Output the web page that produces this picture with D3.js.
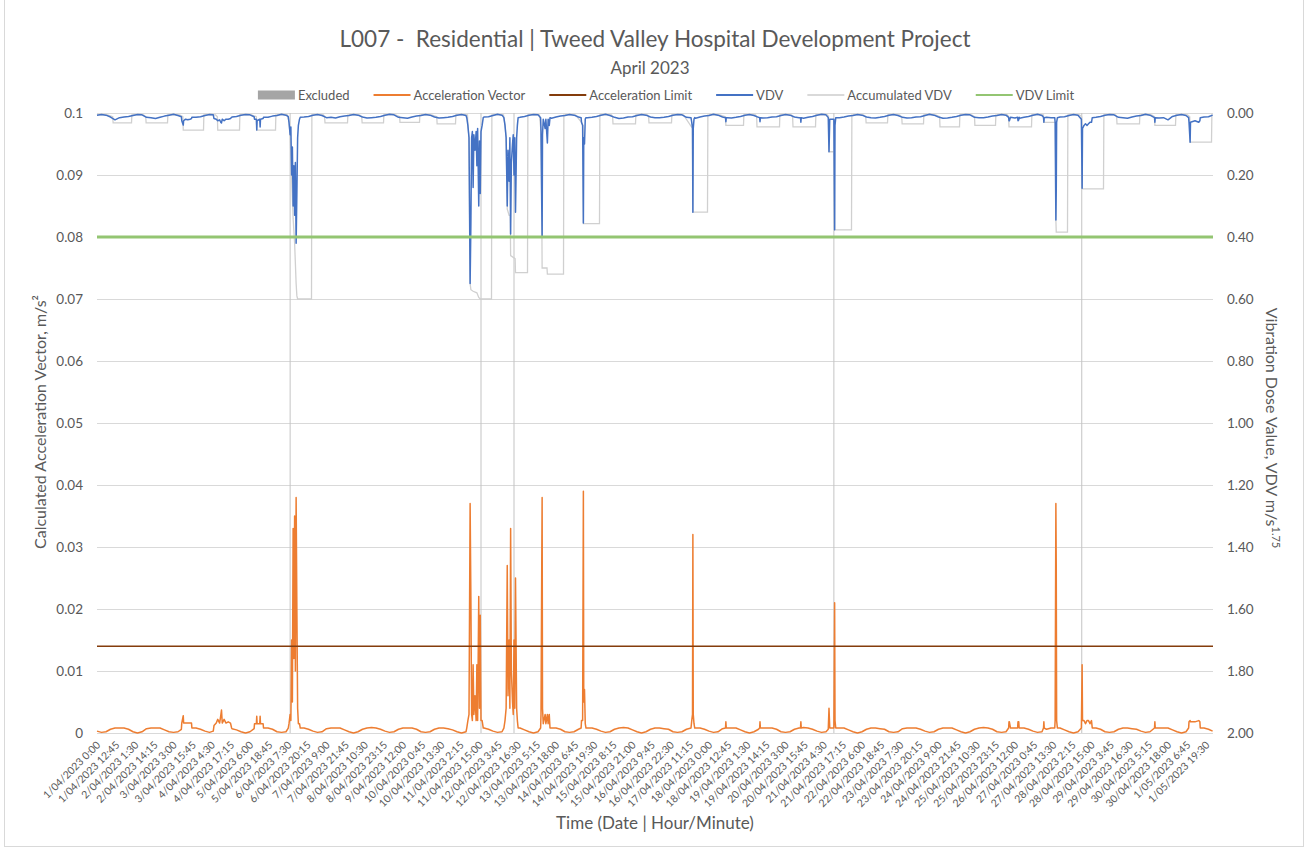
<!DOCTYPE html>
<html lang="en">
<head>
<meta charset="UTF-8" />
<title>L007 - Residential | Tweed Valley Hospital Development Project</title>
<script src="https://d3js.org/d3.v7.min.js"></script>
<style>
  body{margin:0;background:#fff;}
  text{font-family:Lato,"Open Sans",sans-serif;fill:#595959;}
</style>
</head>
<body>
<script>
// ---- data ----
var xLabels = ["1/04/2023 0:00","1/04/2023 12:45","2/04/2023 1:30","2/04/2023 14:15","3/04/2023 3:00","3/04/2023 15:45","4/04/2023 4:30","4/04/2023 17:15","5/04/2023 6:00","5/04/2023 18:45","6/04/2023 7:30","6/04/2023 20:15","7/04/2023 9:00","7/04/2023 21:45","8/04/2023 10:30","8/04/2023 23:15","9/04/2023 12:00","10/04/2023 0:45","10/04/2023 13:30","11/04/2023 2:15","11/04/2023 15:00","12/04/2023 3:45","12/04/2023 16:30","13/04/2023 5:15","13/04/2023 18:00","14/04/2023 6:45","14/04/2023 19:30","15/04/2023 8:15","15/04/2023 21:00","16/04/2023 9:45","16/04/2023 22:30","17/04/2023 11:15","18/04/2023 0:00","18/04/2023 12:45","19/04/2023 1:30","19/04/2023 14:15","20/04/2023 3:00","20/04/2023 15:45","21/04/2023 4:30","21/04/2023 17:15","22/04/2023 6:00","22/04/2023 18:45","23/04/2023 7:30","23/04/2023 20:15","24/04/2023 9:00","24/04/2023 21:45","25/04/2023 10:30","25/04/2023 23:15","26/04/2023 12:00","27/04/2023 0:45","27/04/2023 13:30","28/04/2023 2:15","28/04/2023 15:00","29/04/2023 3:45","29/04/2023 16:30","30/04/2023 5:15","30/04/2023 18:00","1/05/2023 6:45","1/05/2023 19:30"];

var leftTicks = [0,0.01,0.02,0.03,0.04,0.05,0.06,0.07,0.08,0.09,0.1];
var leftTickLabels = ["0","0.01","0.02","0.03","0.04","0.05","0.06","0.07","0.08","0.09","0.1"];
var rightTicks = [0,0.2,0.4,0.6,0.8,1.0,1.2,1.4,1.6,1.8,2.0];
var rightTickLabels = ["0.00","0.20","0.40","0.60","0.80","1.00","1.20","1.40","1.60","1.80","2.00"];

var accelLimit = 0.014;
var vdvLimit = 0.40;
var excludedValue = 0.1;
var excludedTimes = ["6/04 8:45","11/04 16:00","12/04 14:00","21/04 11:15","28/04 8:30"];

// background level of each day, sampled every 3 hours
var baseHours = [0,3,6,9,12,15,18,21];
// acceleration vector, units of 1e-4 m/s2
var accBase = [
 [3,1,2,6,8,8,8,6],[2,0,2,7,8,8,8,5],[2,1,2,6,8,9,8,6],[3,1,2,6,8,8,7,5],[2,0,2,6,8,8,8,6],
 [2,1,2,6,8,8,8,6],[3,1,2,7,8,8,8,5],[2,0,2,6,8,9,8,6],[3,1,2,6,8,8,8,6],[2,1,2,6,8,8,7,5],
 [2,0,2,6,8,8,8,6],[3,1,2,6,8,8,8,5],[2,0,2,7,8,8,8,6],[2,1,2,6,8,8,8,6],[3,1,2,6,8,9,8,5],
 [2,0,2,6,8,8,7,6],[2,1,2,6,8,8,8,6],[3,1,2,7,8,8,8,5],[2,0,2,6,8,8,8,6],[2,1,2,6,8,9,8,6],
 [3,1,2,6,8,8,8,5],[2,0,2,6,8,8,7,6],[2,1,2,7,8,8,8,6],[3,1,2,6,8,8,8,5],[2,0,2,6,8,9,8,6],
 [2,1,2,6,8,8,8,6],[3,1,2,6,8,8,8,5],[2,0,2,7,8,8,8,6],[2,1,2,6,8,8,7,6],[3,1,2,6,8,8,8,5],
 [2,0,2,6,8,8,8,6]
];
// VDV, units of 1e-3 m/s^1.75
var vdvBase = [
 [7,5,7,13,22,15,13,11],[8,5,6,14,15,18,14,10],[7,4,8,13,16,15,14,12],[8,5,7,12,15,17,13,11],[7,5,6,14,16,15,14,10],
 [8,4,7,13,15,16,13,11],[7,5,8,15,14,16,12,10],[8,5,7,13,16,15,14,11],[7,4,6,14,15,17,13,10],[8,5,7,13,16,15,14,11],
 [7,5,8,14,15,16,13,12],[8,4,7,13,16,15,14,11],[7,5,6,14,15,17,13,10],[8,5,7,13,16,15,14,11],[7,4,8,14,18,16,13,12],
 [8,5,7,13,15,15,14,11],[7,5,6,14,16,17,13,10],[8,4,7,13,15,16,14,11],[7,5,8,14,16,15,13,12],[8,5,7,13,15,17,14,11],
 [7,4,6,14,16,15,13,10],[8,5,7,13,15,16,14,11],[7,5,8,14,16,15,13,12],[8,4,7,13,17,16,14,11],[7,5,6,14,15,15,13,10],
 [8,5,7,13,16,17,14,11],[7,4,8,14,15,16,13,12],[8,5,7,13,16,15,14,11],[7,5,6,14,15,17,13,10],[8,4,7,13,16,15,22,11],
 [7,5,8,14,15,16,13,12]
];

// vibration events: [time, acceleration vector m/s2, VDV]
var events = [
 [["3/04 8:15",.0006,.012],["3/04 8:30",.0016,.025],["3/04 9:30",.0028,.039],["3/04 9:45",.0016,.025],["3/04 11:00",.0016,.02],["3/04 12:30",.0016,.022],["3/04 14:00",.0016,.02],["3/04 15:00",.0016,.018],["3/04 15:15",.0008,.014]],
 [["4/04 5:30",.0003,.006],["4/04 6:00",.0012,.018],["4/04 7:30",.0016,.02],["4/04 8:30",.0022,.025],["4/04 9:45",.0016,.022],["4/04 10:30",.0028,.03],["4/04 11:00",.0037,.032],["4/04 11:30",.0016,.02],["4/04 12:45",.0022,.025],["4/04 14:00",.0016,.02],["4/04 15:30",.0018,.02],["4/04 17:00",.0016,.018],["4/04 17:45",.0008,.014]],
 [["5/04 8:45",.0007,.012],["5/04 9:00",.0015,.02],["5/04 10:15",.0015,.02],["5/04 10:30",.0027,.055],["5/04 10:45",.0015,.025],["5/04 12:30",.0015,.02],["5/04 12:45",.0027,.045],["5/04 13:00",.0015,.02],["5/04 14:45",.0015,.018],["5/04 15:00",.0008,.014]],
 [["6/04 7:30",.0008,.012],["6/04 8:00",.0015,.03],["6/04 8:45",.003,.07],["6/04 9:15",.002,.045],["6/04 9:45",.015,.20],["6/04 10:15",.005,.11],["6/04 10:45",.033,.30],["6/04 11:15",.012,.17],["6/04 11:45",.035,.33],["6/04 12:15",.010,.16],["6/04 12:45",.038,.42],["6/04 13:15",.020,.26],["6/04 13:45",.004,.08],["6/04 14:15",.0015,.04],["6/04 15:00",.0015,.02],["6/04 15:30",.0008,.014]],
 [["11/04 6:30",.0008,.015],["11/04 7:15",.002,.04],["11/04 8:00",.003,.08],["11/04 8:45",.037,.55],["11/04 9:15",.022,.36],["11/04 9:45",.003,.08],["11/04 10:15",.002,.06],["11/04 10:45",.011,.24],["11/04 11:15",.003,.07],["11/04 12:00",.006,.12],["11/04 12:45",.002,.06],["11/04 13:15",.011,.17],["11/04 13:45",.002,.05],["11/04 14:30",.022,.30],["11/04 15:00",.004,.09],["11/04 15:30",.019,.26],["11/04 16:00",.002,.06],["11/04 16:45",.002,.04],["11/04 17:30",.0008,.015]],
 [["12/04 7:15",.0008,.015],["12/04 8:00",.002,.04],["12/04 8:45",.004,.08],["12/04 9:30",.027,.30],["12/04 10:00",.006,.12],["12/04 10:45",.015,.22],["12/04 11:15",.004,.08],["12/04 11:45",.033,.39],["12/04 12:15",.010,.16],["12/04 13:00",.005,.10],["12/04 13:30",.003,.07],["12/04 14:00",.015,.20],["12/04 14:30",.004,.08],["12/04 15:00",.025,.32],["12/04 15:45",.004,.08],["12/04 16:15",.002,.04],["12/04 16:45",.0008,.015]],
 [["13/04 7:45",.0008,.015],["13/04 8:00",.003,.06],["13/04 8:30",.027,.30],["13/04 8:45",.038,.40],["13/04 9:00",.004,.07],["13/04 9:30",.0015,.02],["13/04 10:45",.003,.05],["13/04 11:15",.0015,.02],["13/04 12:15",.003,.097],["13/04 12:45",.0015,.02],["13/04 13:30",.003,.04],["13/04 14:00",.0008,.015]],
 [["14/04 10:45",.0008,.015],["14/04 11:00",.002,.03],["14/04 11:45",.002,.04],["14/04 12:15",.039,.355],["14/04 12:30",.005,.08],["14/04 13:00",.007,.10],["14/04 13:30",.0015,.02],["14/04 14:00",.0008,.015]],
 [["17/04 12:00",.0008,.015],["17/04 12:30",.002,.03],["17/04 13:00",.003,.05],["17/04 13:15",.032,.32],["17/04 13:30",.003,.05],["17/04 14:00",.0015,.02],["17/04 14:30",.0008,.015]],
 [["18/04 11:00",.0008,.015],["18/04 11:15",.0018,.028],["18/04 11:30",.0008,.015]],
 [["19/04 9:45",.0008,.015],["19/04 10:00",.0018,.028],["19/04 10:15",.0008,.015]],
 [["20/04 13:00",.0008,.015],["20/04 13:15",.0018,.03],["20/04 13:30",.0008,.015]],
 [["21/04 7:30",.0006,.015],["21/04 8:00",.004,.125],["21/04 8:30",.0008,.02],["21/04 11:15",.0008,.02],["21/04 11:45",.021,.377],["21/04 12:00",.002,.04],["21/04 12:30",.0008,.015]],
 [["26/04 7:45",.0008,.014],["26/04 8:00",.0018,.025],["26/04 8:15",.0018,.025],["26/04 9:00",.0008,.014]],
 [["26/04 13:45",.0008,.014],["26/04 14:00",.0018,.025],["26/04 14:30",.0018,.022],["26/04 14:45",.0008,.014]],
 [["27/04 7:00",.0008,.014],["27/04 7:15",.0018,.03],["27/04 7:30",.0008,.015]],
 [["27/04 14:30",.0008,.015],["27/04 14:45",.002,.03],["27/04 15:15",.037,.345],["27/04 15:30",.027,.25],["27/04 15:45",.002,.03],["27/04 16:15",.0008,.015]],
 [["28/04 8:15",.0008,.02],["28/04 8:45",.011,.243],["28/04 9:00",.002,.05],["28/04 10:00",.002,.04],["28/04 11:00",.0015,.035],["28/04 12:00",.002,.04],["28/04 13:00",.002,.035],["28/04 14:00",.0015,.03],["28/04 15:00",.002,.03],["28/04 15:30",.0008,.015]],
 [["30/04 9:00",.0008,.015],["30/04 9:15",.0018,.03],["30/04 9:30",.0008,.015]],
 [["1/05 7:45",.0008,.015],["1/05 8:00",.0018,.03],["1/05 8:45",.002,.094],["1/05 9:00",.0018,.03],["1/05 12:00",.0018,.025],["1/05 14:30",.002,.03],["1/05 15:15",.0018,.025],["1/05 15:30",.0008,.015]],
 [["1/05 23:45",.0003,.007]]
];

// accumulated VDV per daytime period (7:00 - 23:00)
var accumNight = 0.006;
var accumPre = 0.012;
var accumLevel = [.032,.032,.055,.055,.055,.60,.032,.032,.03,.035,.60,.515,.52,.357,.035,.032,.32,.04,.045,.045,.377,.032,.035,.045,.04,.045,.384,.245,.035,.04,.094];
var accumRise = ["10:45","8:45","9:30","8:30","10:30",null,"8:00","8:45","10:00","10:45",null,null,null,null,"8:00","8:00",null,"11:15","8:00","8:00",null,"8:45","8:45","10:00","9:15","8:00",null,null,"8:00","9:15",null];
var accumSteps = [
 ["6/04 8:00",.03],["6/04 8:45",.07],["6/04 9:45",.21],["6/04 10:45",.34],["6/04 11:45",.42],["6/04 12:45",.55],["6/04 13:15",.59],["6/04 13:45",.60],
 ["11/04 7:15",.04],["11/04 8:00",.08],["11/04 8:45",.55],["11/04 9:15",.57],["11/04 10:45",.575],["11/04 13:15",.58],["11/04 14:30",.595],["11/04 15:30",.60],
 ["12/04 8:00",.04],["12/04 8:45",.08],["12/04 9:30",.31],["12/04 10:45",.33],["12/04 11:30",.33],["12/04 11:45",.46],["12/04 14:45",.47],["12/04 15:00",.515],
 ["13/04 8:00",.06],["13/04 8:30",.30],["13/04 8:45",.50],["13/04 12:00",.50],["13/04 12:15",.52],
 ["14/04 11:00",.03],["14/04 12:00",.04],["14/04 12:15",.357],
 ["17/04 13:00",.05],["17/04 13:15",.32],
 ["21/04 7:45",.012],["21/04 8:00",.125],["21/04 11:30",.125],["21/04 11:45",.377],
 ["27/04 7:00",.008],["27/04 7:15",.03],["27/04 15:00",.03],["27/04 15:15",.345],["27/04 15:30",.384],
 ["28/04 8:30",.012],["28/04 8:45",.245],
 ["1/05 8:30",.012],["1/05 8:45",.094]
];

// ---- build ----
var width = 1307, height = 850;
var plot = {left: 97, right: 1213, top: 113, bottom: 733};

var parseFull = d3.timeParse("%d/%m/%Y %H:%M");
function when(s){ return parseFull(s.replace(" ", "/2023 ")); }
function at(d, hm){ var p = hm.split(":"); return new Date(2023, 3, 1 + d, +p[0], +p[1]); }

var start = new Date(2023, 3, 1), end = new Date(2023, 4, 2);
var x = d3.scaleTime().domain([start, end]).range([plot.left, plot.right]);
var y = d3.scaleLinear().domain([0, 0.1]).range([plot.bottom, plot.top]);
var y2 = d3.scaleLinear().domain([0, 2]).range([plot.top, plot.bottom]);

// acceleration + vdv series
var windows = events.map(function(g){ return [when(g[0][0]), when(g[g.length-1][0])]; });
function inWindow(t){ return windows.some(function(w){ return t >= w[0] && t <= w[1]; }); }
var accSeries = [], vdvSeries = [];
accBase.forEach(function(row, d){
  row.forEach(function(v, k){
    var t = new Date(2023, 3, 1 + d, baseHours[k]);
    if (!inWindow(t)) {
      accSeries.push({t: t, v: v * 1e-4});
      vdvSeries.push({t: t, v: vdvBase[d][k] * 1e-3});
    }
  });
});
events.forEach(function(g){
  g.forEach(function(p){
    var t = when(p[0]);
    accSeries.push({t: t, v: p[1]});
    vdvSeries.push({t: t, v: p[2]});
  });
});
accSeries.sort(function(a,b){ return a.t - b.t; });
vdvSeries.sort(function(a,b){ return a.t - b.t; });

// accumulated series
var stepPts = accumSteps.map(function(s){ return {t: when(s[0]), v: s[1]}; });
var accumSeries = [{t: at(0, "0:00"), v: accumNight}];
accumLevel.forEach(function(lvl, d){
  var day = at(d, "0:00");
  accumSeries.push({t: at(d, "7:00"), v: accumNight});
  var mine = stepPts.filter(function(s){ return +d3.timeDay.floor(s.t) === +day; });
  if (mine.length) {
    mine.forEach(function(s){ accumSeries.push(s); });
  } else {
    var r = at(d, accumRise[d]);
    accumSeries.push({t: new Date(+r - 15 * 60000), v: accumPre});
    accumSeries.push({t: r, v: lvl});
  }
  accumSeries.push({t: at(d, "23:00"), v: lvl});
  accumSeries.push({t: at(d, "23:15"), v: accumNight});
});
accumSeries.push({t: at(30, "23:45"), v: accumNight});

var svg = d3.select("body").append("svg").attr("width", width).attr("height", height);
svg.append("rect").attr("x", 0).attr("y", 0).attr("width", width).attr("height", height).attr("fill", "#fff");
svg.append("rect").attr("x", 4.5).attr("y", -0.5).attr("width", 1299).attr("height", 847)
  .attr("fill", "none").attr("stroke", "#d9d9d9");

// gridlines
svg.append("g").selectAll("line").data(leftTicks).enter().append("line")
  .attr("x1", plot.left).attr("x2", plot.right)
  .attr("y1", function(d){ return Math.round(y(d)) + 0.5; })
  .attr("y2", function(d){ return Math.round(y(d)) + 0.5; })
  .attr("stroke", "#d9d9d9").attr("stroke-width", 1);

// excluded columns
svg.append("g").selectAll("rect").data(excludedTimes).enter().append("rect")
  .attr("x", function(d){ return x(when(d)) - 0.5; })
  .attr("width", 1)
  .attr("y", y(excludedValue))
  .attr("height", y(0) - y(excludedValue))
  .attr("fill", "#c4c4c4");

var line1 = d3.line().x(function(d){ return x(d.t); }).y(function(d){ return y(d.v); });
var line2 = d3.line().x(function(d){ return x(d.t); }).y(function(d){ return y2(d.v); });

svg.append("path").datum(accSeries).attr("d", line1)
  .attr("fill", "none").attr("stroke", "#ED7D31").attr("stroke-width", 1.5).attr("stroke-linejoin", "round");

svg.append("line").attr("x1", plot.left).attr("x2", plot.right)
  .attr("y1", y(accelLimit)).attr("y2", y(accelLimit))
  .attr("stroke", "#843C0C").attr("stroke-width", 1.5);

svg.append("path").datum(accumSeries).attr("d", line2)
  .attr("fill", "none").attr("stroke", "#d0d0d0").attr("stroke-width", 1.3);

svg.append("path").datum(vdvSeries).attr("d", line2)
  .attr("fill", "none").attr("stroke", "#4472C4").attr("stroke-width", 1.5).attr("stroke-linejoin", "round");

svg.append("line").attr("x1", plot.left).attr("x2", plot.right)
  .attr("y1", y2(vdvLimit)).attr("y2", y2(vdvLimit))
  .attr("stroke", "#93C572").attr("stroke-width", 2.8);

// axes
var axL = svg.append("g").attr("transform", "translate(" + plot.left + ",0)")
  .call(d3.axisLeft(y).tickValues(leftTicks).tickSize(0).tickPadding(14)
    .tickFormat(function(d, i){ return leftTickLabels[i]; }));
var axR = svg.append("g").attr("transform", "translate(" + plot.right + ",0)")
  .call(d3.axisRight(y2).tickValues(rightTicks).tickSize(0).tickPadding(14)
    .tickFormat(function(d, i){ return rightTickLabels[i]; }));
[axL, axR].forEach(function(a){
  a.select(".domain").remove();
  a.selectAll("text").attr("font-size", 13.5).attr("font-family", null);
});

var xTicks = xLabels.map(function(s){ return parseFull(s); });
var axB = svg.append("g").attr("transform", "translate(0," + plot.bottom + ")")
  .call(d3.axisBottom(x).tickValues(xTicks).tickSize(0)
    .tickFormat(function(d, i){ return xLabels[i]; }));
axB.select(".domain").remove();
axB.selectAll("text")
  .attr("font-size", 10.5).attr("font-family", null)
  .attr("x", 0).attr("y", 0).attr("dy", "0.35em")
  .attr("transform", "translate(1,10) rotate(-45)")
  .style("text-anchor", "end");

// titles
svg.append("text").attr("x", 655).attr("y", 47).attr("text-anchor", "middle")
  .attr("font-size", 22.5).style("white-space", "pre")
  .text("L007 -  Residential | Tweed Valley Hospital Development Project");
svg.append("text").attr("x", 650).attr("y", 74).attr("text-anchor", "middle")
  .attr("font-size", 17).text("April 2023");

svg.append("text").attr("transform", "translate(46,422) rotate(-90)")
  .attr("text-anchor", "middle").attr("font-size", 16)
  .text("Calculated Acceleration Vector, m/s²");

var rt = svg.append("text").attr("transform", "translate(1266,428) rotate(90)")
  .attr("text-anchor", "middle").attr("font-size", 16);
rt.append("tspan").text("Vibration Dose Value, VDV m/s");
rt.append("tspan").attr("font-size", 11).attr("dy", -6).text("1.75");

svg.append("text").attr("x", 655).attr("y", 829).attr("text-anchor", "middle")
  .attr("font-size", 17).text("Time (Date | Hour/Minute)");

// legend
var legendItems = [
  {name: "Excluded", type: "rect", color: "#a5a5a5"},
  {name: "Acceleration Vector", type: "line", color: "#ED7D31"},
  {name: "Acceleration Limit", type: "line", color: "#843C0C"},
  {name: "VDV", type: "line", color: "#4472C4"},
  {name: "Accumulated VDV", type: "line", color: "#d9d9d9"},
  {name: "VDV Limit", type: "line", color: "#93C572"}
];
var lg = svg.append("g");
var cursor = 0, gap = 24;
legendItems.forEach(function(it){
  var g = lg.append("g").attr("transform", "translate(" + cursor + ",0)");
  if (it.type === "rect") {
    g.append("rect").attr("x", 0).attr("y", -4.5).attr("width", 37).attr("height", 9).attr("fill", it.color);
  } else {
    g.append("line").attr("x1", 0).attr("x2", 37).attr("y1", 0).attr("y2", 0)
      .attr("stroke", it.color).attr("stroke-width", 2.2);
  }
  var t = g.append("text").attr("x", 40).attr("dy", "0.35em").attr("font-size", 13).text(it.name);
  cursor += 40 + t.node().getComputedTextLength() + gap;
});
lg.attr("transform", "translate(" + (666 - (cursor - gap) / 2) + ",95)");
</script>
</body>
</html>
